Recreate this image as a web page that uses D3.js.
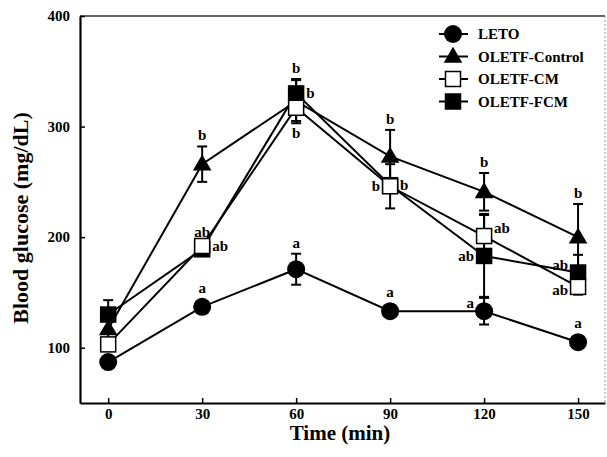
<!DOCTYPE html>
<html>
<head>
<meta charset="utf-8">
<script src="https://cdn.jsdelivr.net/npm/d3@7"></script>
<style>
  body { margin: 0; background: #fff; }
  svg text { font-family: "Liberation Serif", "Times New Roman", serif; font-weight: bold; fill: #000; }
</style>
</head>
<body>
<svg id="chart"></svg>
<script>
document.addEventListener('DOMContentLoaded', function () {
    const width = 607;
    const height = 457;

    // data
    const times = [0, 30, 60, 90, 120, 150];
    const seriesNames = ["LETO", "OLETF-Control", "OLETF-CM", "OLETF-FCM"];

    const leto = [87, 137, 171, 133, 133, 105];
    const letoErr = [3, 5, 14, 3, 12, 3];
    const control = [117, 266, 323, 273, 241, 200];
    const controlErr = [8, 16, 20, 24, 17, 30];
    const fcm = [130, 189, 330, 247, 183, 168];
    const fcmErr = [13, 5, 12, 6, 37, 16];
    const cm = [103, 192, 317, 246, 201, 155];
    const cmErr = [5, 4, 12, 20, 20, 7];

    const letoLetters = ["", "a", "a", "a", "a", "a"];
    const controlLetters = ["", "b", "b", "b", "b", "b"];
    const fcmLetters = ["", "ab", "b", "b", "ab", "ab"];
    const cmLetters = ["", "ab", "b", "b", "ab", "ab"];

    const xTicks = [0, 30, 60, 90, 120, 150];
    const yTicks = [100, 200, 300, 400];

    const svg = d3.select("#chart")
        .attr("width", width)
        .attr("height", height);

    const x = d3.scaleLinear().domain([-9, 158.6]).range([80, 605]);
    const y = d3.scaleLinear().domain([50, 400]).range([403, 16]);

    // frame: top solid, right faint dotted
    svg.append("line")
        .attr("x1", 80).attr("x2", 605)
        .attr("y1", y(400)).attr("y2", y(400))
        .attr("stroke", "#333").attr("stroke-width", 1.5);
    svg.append("line")
        .attr("x1", 605).attr("x2", 605)
        .attr("y1", y(400)).attr("y2", y(50))
        .attr("stroke", "#999").attr("stroke-width", 1)
        .attr("stroke-dasharray", "2,2");

    const yAxis = svg.append("g")
        .attr("transform", "translate(80,0)")
        .call(d3.axisLeft(y).tickValues(yTicks).tickSizeInner(-5).tickSizeOuter(0).tickPadding(10));
    const xAxis = svg.append("g")
        .attr("transform", "translate(0,403)")
        .call(d3.axisBottom(x).tickValues(xTicks).tickSizeInner(-5).tickSizeOuter(0).tickPadding(5));

    [yAxis, xAxis].forEach(g => {
        g.attr("font-family", null).attr("font-size", null);
        g.select(".domain").attr("stroke", "#000").attr("stroke-width", 2.2);
        g.selectAll(".tick line").attr("stroke", "#000").attr("stroke-width", 1.5);
        g.selectAll(".tick text").style("font-size", "15px").attr("fill", "#000");
    });

    svg.append("text")
        .attr("x", 340).attr("y", 440)
        .attr("text-anchor", "middle")
        .style("font-size", "21px")
        .text("Time (min)");

    svg.append("text")
        .attr("transform", "translate(28,218) rotate(-90)")
        .attr("text-anchor", "middle")
        .style("font-size", "22px")
        .text("Blood glucose (mg/dL)");

    const series = [
        { name: seriesNames[0], values: leto, err: letoErr, letters: letoLetters, shape: "circle", fill: "#000",
          sides: ["", "up", "up", "up", "leftUp", "up"] },
        { name: seriesNames[1], values: control, err: controlErr, letters: controlLetters, shape: "triangle", fill: "#000",
          sides: ["", "up", "up", "up", "up", "up"] },
        { name: seriesNames[3], values: fcm, err: fcmErr, letters: fcmLetters, shape: "square", fill: "#000",
          sides: ["", "upNoErr", "right", "right", "left", "leftUp"] },
        { name: seriesNames[2], values: cm, err: cmErr, letters: cmLetters, shape: "square", fill: "#fff",
          sides: ["", "right", "down", "left", "rightUp", "leftDown"] }
    ];

    const line = d3.line()
        .x((d, i) => x(times[i]))
        .y(d => y(d));

    function drawMarker(g, shape, fill) {
        if (shape === "circle") {
            g.append("circle").attr("r", 9).attr("fill", fill);
        } else if (shape === "triangle") {
            g.append("path")
                .attr("d", d3.symbol().type(d3.symbolTriangle).size(150)())
                .attr("transform", "translate(0,1)")
                .attr("fill", fill);
        } else {
            g.append("rect")
                .attr("x", -7.5).attr("y", -7.5)
                .attr("width", 15).attr("height", 15)
                .attr("fill", fill)
                .attr("stroke", "#000").attr("stroke-width", 1.5);
        }
    }

    series.forEach(s => {
        const g = svg.append("g").attr("class", "series");

        // error bars
        s.values.forEach((v, i) => {
            const cx = x(times[i]);
            const top = y(v + s.err[i]);
            const bot = y(v - s.err[i]);
            g.append("line")
                .attr("x1", cx).attr("x2", cx).attr("y1", top).attr("y2", bot)
                .attr("stroke", "#000").attr("stroke-width", 2);
            [top, bot].forEach(cy => {
                g.append("line")
                    .attr("x1", cx - 5).attr("x2", cx + 5).attr("y1", cy).attr("y2", cy)
                    .attr("stroke", "#000").attr("stroke-width", 2);
            });
        });

        g.append("path")
            .datum(s.values)
            .attr("d", line)
            .attr("fill", "none")
            .attr("stroke", "#000")
            .attr("stroke-width", 2);

        s.values.forEach((v, i) => {
            const m = g.append("g").attr("transform", `translate(${x(times[i])},${y(v)})`);
            drawMarker(m, s.shape, s.fill);
        });
    });

    // significance letters
    series.forEach(s => {
        s.letters.forEach((lab, i) => {
            if (!lab) return;
            const cx = x(times[i]);
            const cy = y(s.values[i]);
            const side = s.sides[i];
            let tx = cx, ty = cy + 5, anchor = "middle";
            if (side === "up") {
                ty = Math.min(y(s.values[i] + s.err[i]) - 6, cy - 14);
            } else if (side === "upNoErr") {
                ty = cy - 12;
            } else if (side === "down") {
                ty = y(s.values[i] - s.err[i]) + 17;
            } else if (side.startsWith("right")) {
                tx = cx + 10; anchor = "start";
            } else if (side.startsWith("left")) {
                tx = cx - 10; anchor = "end";
            }
            if (side.endsWith("Up")) ty = cy - 3;
            if (side.endsWith("Down")) ty = cy + 8;
            svg.append("text")
                .attr("x", tx).attr("y", ty)
                .attr("text-anchor", anchor)
                .style("font-size", "15px")
                .text(lab);
        });
    });

    // legend
    const legendOrder = [series[0], series[1], series[3], series[2]];
    const legend = svg.append("g").attr("transform", "translate(453,34)");
    legendOrder.forEach((s, i) => {
        const row = legend.append("g").attr("transform", `translate(0,${i * 22.5})`);
        row.append("line")
            .attr("x1", -14).attr("x2", 15)
            .attr("stroke", "#000").attr("stroke-width", 2);
        drawMarker(row, s.shape, s.fill);
        row.append("text")
            .attr("x", 25).attr("y", 5)
            .style("font-size", "15px")
            .text(s.name);
    });
});
</script>
</body>
</html>
